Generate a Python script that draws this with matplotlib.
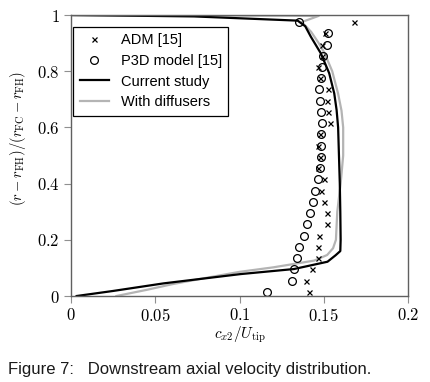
import matplotlib
matplotlib.use("Agg")
import matplotlib.pyplot as plt
from matplotlib.ticker import FuncFormatter

plt.rcParams["mathtext.fontset"] = "cm"
plt.rcParams["font.family"] = ["Liberation Sans", "DejaVu Sans"]

# Messpunkte
y_pts = [0.015, 0.055, 0.095, 0.135, 0.175, 0.215, 0.255, 0.295, 0.335, 0.375,
         0.415, 0.455, 0.495, 0.535, 0.575, 0.615, 0.655, 0.695, 0.735, 0.775,
         0.815, 0.855, 0.895, 0.935, 0.975]
adm_x = [0.1415, 0.1395, 0.1433, 0.1468, 0.1466, 0.1474, 0.1518, 0.1518, 0.1500, 0.1484,
         0.1500, 0.1466, 0.1480, 0.1466, 0.1480, 0.1538, 0.1526, 0.1518, 0.1526, 0.1480,
         0.1468, 0.1492, 0.1488, 0.1510, 0.1677]
p3d_x = [0.1165, 0.1310, 0.1325, 0.1340, 0.1355, 0.1380, 0.1400, 0.1420, 0.1437, 0.1450,
         0.1468, 0.1478, 0.1484, 0.1486, 0.1486, 0.1490, 0.1482, 0.1476, 0.1474, 0.1482,
         0.1488, 0.1496, 0.1518, 0.1526, 0.1350]

# Kurven
cur_x = [0.0034, 0.025, 0.055, 0.1006, 0.1323, 0.1522, 0.157, 0.1598, 0.1600, 0.1598,
         0.1595, 0.1590, 0.1585, 0.1576, 0.1562, 0.1532, 0.1482, 0.1423, 0.1390, 0.1345,
         0.073, 0.0]
cur_y = [0.0, 0.018, 0.045, 0.078, 0.096, 0.122, 0.145, 0.160, 0.200, 0.300,
         0.400, 0.500, 0.600, 0.662, 0.721, 0.793, 0.864, 0.923, 0.960, 0.980,
         0.995, 1.0]
dif_x = [0.027, 0.045, 0.060, 0.076, 0.100, 0.120, 0.1443, 0.152, 0.1555, 0.1572,
         0.1580, 0.1600, 0.1615, 0.1615, 0.1605, 0.1585, 0.1550, 0.1505, 0.1470, 0.1425,
         0.1370, 0.1470, 0.0]
dif_y = [0.0, 0.022, 0.042, 0.060, 0.086, 0.102, 0.126, 0.146, 0.170, 0.200,
         0.300, 0.400, 0.500, 0.600, 0.660, 0.720, 0.800, 0.864, 0.900, 0.940,
         0.975, 0.997, 1.0]

x_ticks = [0, 0.05, 0.1, 0.15, 0.2]
y_ticks = [0, 0.2, 0.4, 0.6, 0.8, 1]

fig = plt.figure(figsize=(4.3, 3.82), dpi=100)
ax = fig.add_axes([0.165, 0.2251, 0.784, 0.7356])

ax.plot(adm_x, y_pts, linestyle="none", marker="x", color="black",
        markersize=3.6, markeredgewidth=0.9, label="ADM [15]")
ax.plot(p3d_x, y_pts, linestyle="none", marker="o", markerfacecolor="none",
        markeredgecolor="black", markersize=5.6, markeredgewidth=0.9,
        label="P3D model [15]")
ax.plot(cur_x, cur_y, color="black", linewidth=1.6, label="Current study")
ax.plot(dif_x, dif_y, color="#b4b4b4", linewidth=1.6, label="With diffusers",
        zorder=1.5)

ax.set_xlim(0, 0.2)
ax.set_ylim(0, 1)
ax.set_xticks(x_ticks)
ax.set_yticks(y_ticks)
fmt = FuncFormatter(lambda v, p: "$%g$" % v)
ax.xaxis.set_major_formatter(fmt)
ax.yaxis.set_major_formatter(fmt)
ax.tick_params(direction="out", length=5, width=0.8, color="#909090",
               labelsize=12, top=False, right=False, pad=3)
for s in ax.spines.values():
    s.set_color("#606060")
    s.set_linewidth(1.0)

ax.set_xlabel(r"$c_{x2}/U_{\mathrm{tip}}$", fontsize=11, labelpad=0)
ax.set_ylabel(r"$(r-r_{\mathrm{FH}})/(r_{\mathrm{FC}}-r_{\mathrm{FH}})$",
              fontsize=10.5)
ax.yaxis.set_label_coords(-0.128, 0.56)

leg = ax.legend(loc="upper left", bbox_to_anchor=(0.007, 0.958),
                borderaxespad=0, fancybox=False, framealpha=1,
                edgecolor="black", fontsize=10.5, handlelength=2.0,
                labelspacing=0.45, borderpad=0.45, handletextpad=0.8)
leg.get_frame().set_linewidth(0.9)

fig.text(0.019, 0.022, "Figure 7:   Downstream axial velocity distribution.",
         fontsize=12, color="#1a1a1a")

fig.savefig("out.png", dpi=100)
